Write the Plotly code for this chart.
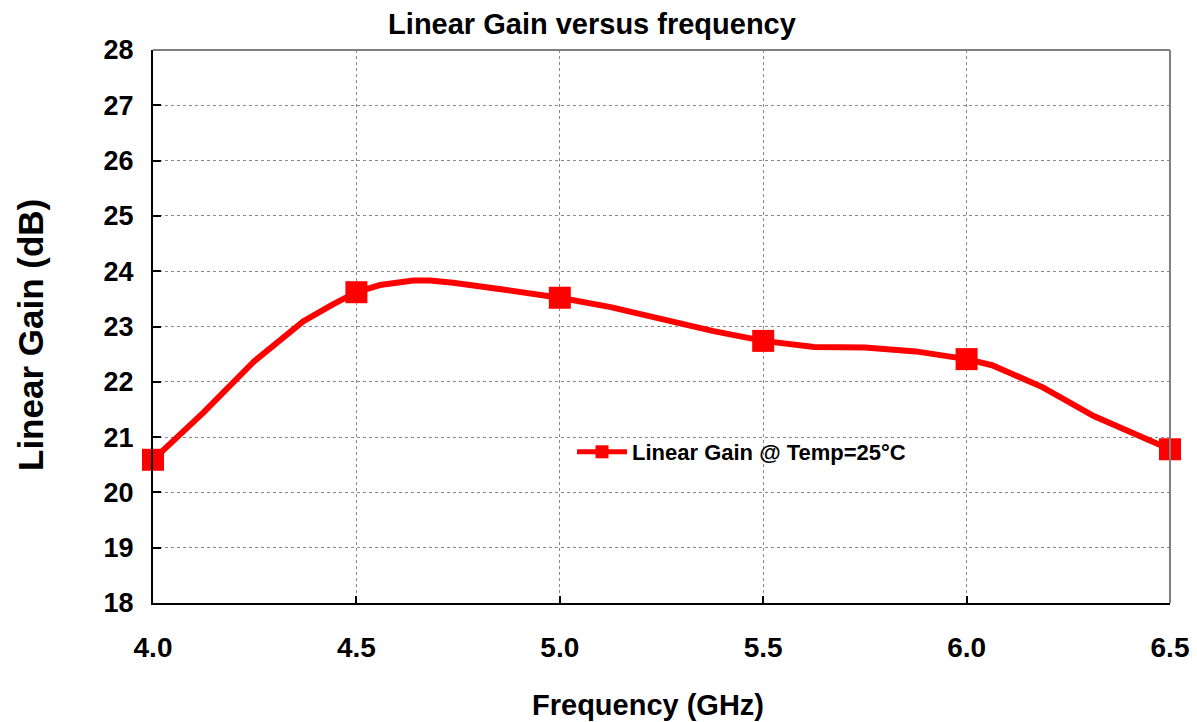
import plotly.graph_objects as go

# Measured points (markers)
freq_pts = [4.0, 4.5, 5.0, 5.5, 6.0, 6.5]
gain_pts = [20.59, 23.62, 23.52, 22.74, 22.41, 20.78]

# Smoothed curve vertices
freq_curve = [4.0, 4.125, 4.247, 4.369, 4.44, 4.5, 4.558, 4.64, 4.681, 4.738, 4.869,
              5.0, 5.125, 5.25, 5.375, 5.5, 5.625, 5.75, 5.875, 6.0, 6.0625, 6.1875, 6.3125, 6.5]
gain_curve = [20.59, 21.45, 22.36, 23.09, 23.39, 23.62, 23.75, 23.83, 23.83, 23.79, 23.66,
              23.52, 23.35, 23.13, 22.92, 22.74, 22.63, 22.62, 22.55, 22.41, 22.3, 21.9, 21.38, 20.78]

x_ticks = [4.0, 4.5, 5.0, 5.5, 6.0, 6.5]
x_ticklabels = ["4.0", "4.5", "5.0", "5.5", "6.0", "6.5"]
y_ticks = list(range(18, 29))

series_name = "Linear Gain @ Temp=25°C"
title_text = "<b>Linear Gain versus frequency</b>"
x_title = "<b>Frequency (GHz)</b>"
y_title = "<b>Linear Gain (dB)</b>"

FONT = "Arial, Liberation Sans, sans-serif"
RED = "#ff0000"
W, H = 1197, 722
L, T = 153, 50
R = W - 1170
B = H - 603
PW, PH = W - L - R, H - T - B

def px_x(p):
    return (p - L) / PW

def px_y(p):
    return (H - B - p) / PH

fig = go.Figure()
fig.add_trace(go.Scatter(x=freq_curve, y=gain_curve, mode="lines",
                         line=dict(color=RED, width=6), showlegend=False,
                         cliponaxis=False, hoverinfo="skip"))
fig.add_trace(go.Scatter(x=freq_pts, y=gain_pts, mode="markers",
                         marker=dict(symbol="square", size=22, color=RED),
                         showlegend=False, cliponaxis=False))
fig.add_trace(go.Scatter(x=[None], y=[None], mode="lines+markers", name="<b>%s</b>" % series_name,
                         line=dict(color=RED, width=5),
                         marker=dict(symbol="square", size=13, color=RED)))

shapes = [
    dict(type="rect", xref="paper", yref="paper", x0=px_x(497), x1=px_x(975),
         y0=px_y(493), y1=px_y(435), fillcolor="white", line=dict(width=0), layer="between"),
    dict(type="line", xref="paper", yref="paper", x0=0, x1=1, y0=1, y1=1,
         line=dict(color="#808080", width=2)),
    dict(type="line", xref="paper", yref="paper", x0=1, x1=1, y0=0, y1=1,
         line=dict(color="#808080", width=2)),
]

annotations = [
    dict(text=y_title, textangle=-90, xref="paper", yref="paper",
         x=px_x(30), y=px_y(335), xanchor="center", yanchor="middle", showarrow=False,
         font=dict(size=35, family=FONT, color="black")),
    dict(text=x_title, xref="paper", yref="paper",
         x=px_x(648), y=px_y(705), xanchor="center", yanchor="middle", showarrow=False,
         font=dict(size=29, family=FONT, color="black")),
]

fig.update_layout(
    width=W, height=H,
    margin=dict(l=L, r=R, t=T, b=B, autoexpand=False),
    paper_bgcolor="white", plot_bgcolor="white",
    font=dict(family=FONT, color="black"),
    title=dict(text=title_text, x=592 / W, xanchor="center", y=1 - 24 / H,
               yanchor="middle", font=dict(size=29, family=FONT, color="black")),
    showlegend=True,
    legend=dict(x=px_x(572), y=px_y(452), xanchor="left", yanchor="middle",
                bgcolor="rgba(0,0,0,0)", borderwidth=0,
                font=dict(size=22, family=FONT, color="black"), itemwidth=50),
    shapes=shapes,
    annotations=annotations,
)

fig.update_xaxes(
    range=[4.0, 6.5], tickvals=x_ticks, ticktext=["<b>%s</b>" % t for t in x_ticklabels],
    showgrid=True, gridcolor="#888888", griddash="dot", gridwidth=1,
    showline=True, linecolor="black", linewidth=2, zeroline=False,
    ticks="inside", ticklen=7, tickwidth=2, tickcolor="black",
    tickfont=dict(size=28, family=FONT, color="black"), ticklabelstandoff=18,
    automargin=False,
)
fig.update_yaxes(
    range=[18, 28], tickvals=y_ticks, ticktext=["<b>%d</b>" % v for v in y_ticks],
    showgrid=True, gridcolor="#888888", griddash="dot", gridwidth=1,
    showline=True, linecolor="black", linewidth=2, zeroline=False,
    ticks="inside", ticklen=8, tickwidth=2, tickcolor="black",
    tickfont=dict(size=27, family=FONT, color="black"), ticklabelstandoff=12,
    automargin=False,
)

fig.write_html("out.html", config={"displayModeBar": False},
               post_script="document.body.style.margin='0';document.body.style.overflow='hidden';")
